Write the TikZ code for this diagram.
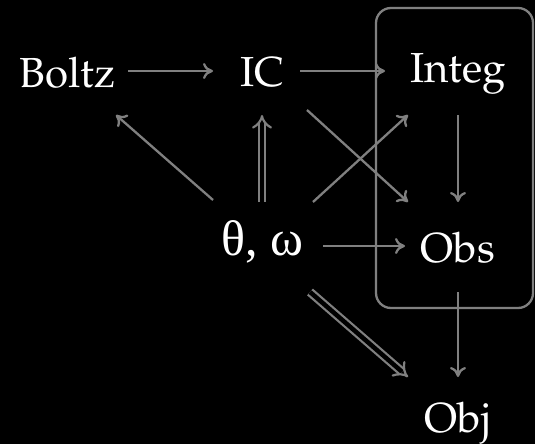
\documentclass[tikz,border=0pt]{standalone}
\usepackage[T1]{fontenc}
\usepackage{fontspec}
\newfontfamily\grkfont{Liberation Serif}
\newcommand\palfont{\fontencoding{T1}\fontfamily{ppl}\selectfont}
\usetikzlibrary{arrows.meta,calc}
\definecolor{linegray}{RGB}{128,128,128}
\begin{document}
\begin{tikzpicture}[x=1pt,y=-1pt,
  lbl/.style={anchor=base,inner sep=0pt,text=white,font=\palfont\fontsize{42}{50}\selectfont},
  grklbl/.style={anchor=base,inner sep=0pt,text=white,font=\grkfont\fontsize{50}{56}\selectfont},
  conn/.style={draw=linegray,line width=2.3pt,-{Computer Modern Rightarrow[length=10pt,width=16pt]}},
  dconn/.style={draw=linegray,line width=2.2pt,double=black,double distance=4.5pt,-{Implies}},
  grp/.style={draw=linegray,line width=2.3pt,rounded corners=15pt}]
\fill[black] (0,0) rectangle (535,444);
\useasboundingbox (0,0) rectangle (535,444);
\node[lbl] (boltz) at (67.5,88) {Boltz};
\node[lbl] (ic) at (262,86) {IC};
\node[lbl] (integ) at (458,82) {Integ};
\node[grklbl] (th) at (262,255) {θ,\ ω};
\node[lbl] (obs) at (458,262) {Obs};
\node[lbl] (obj) at (458,432) {Obj};
\draw[grp] ($(integ.base)+(-82,-74)$) rectangle ($(obs.base)+(75,46)$);
\draw[conn] ($(boltz.base)+(60.5,-17)$) -- ($(ic.base)+(-49,-15)$);
\draw[conn] ($(ic.base)+(38,-15)$) -- ($(integ.base)+(-73,-11)$);
\draw[conn] ($(th.base)+(-49,-55)$) -- ($(boltz.base)+(48.5,27)$);
\draw[dconn] ($(th.base)+(0,-53)$) -- ($(ic.base)+(0,29)$);
\draw[conn] ($(th.base)+(51,-53)$) -- ($(integ.base)+(-50,33)$);
\draw[conn] ($(ic.base)+(45,24)$) -- ($(obs.base)+(-50,-60)$);
\draw[conn] ($(integ.base)+(0,33)$) -- ($(obs.base)+(0,-60)$);
\draw[conn] ($(th.base)+(61,-9)$) -- ($(obs.base)+(-53,-16)$);
\draw[dconn] ($(th.base)+(48,37)$) -- ($(obj.base)+(-50,-55)$);
\draw[conn] ($(obs.base)+(0,30)$) -- ($(obj.base)+(0,-55)$);
\end{tikzpicture}
\end{document}
